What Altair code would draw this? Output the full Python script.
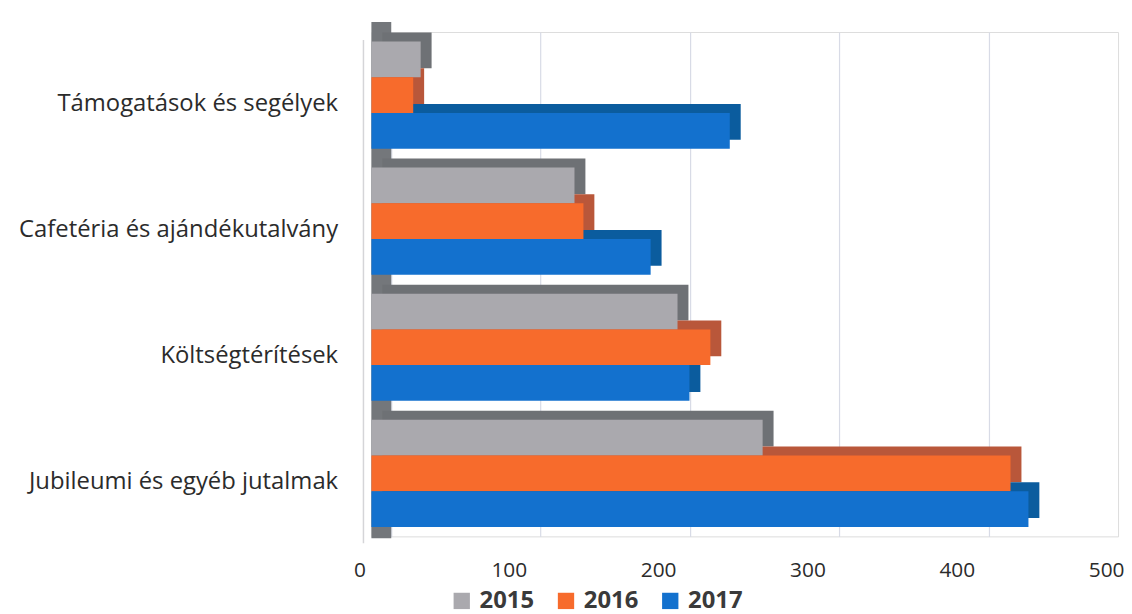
import altair as alt
import pandas as pd

categories = ["Támogatások és segélyek", "Cafetéria és ajándékutalvány",
              "Költségtérítések", "Jubileumi és egyéb jutalmak"]
years = ["2015", "2016", "2017"]
v2015 = [33, 136, 205, 262]
v2016 = [28, 142, 227, 428]
v2017 = [240, 187, 213, 440]

front_colors = ["#AAA9AE", "#F76B2C", "#1371CE"]
side_colors = ["#6E7175", "#B9573A", "#0B5C9E"]

rows = []
for i, c in enumerate(categories):
    for j, (y, vals) in enumerate(zip(years, [v2015, v2016, v2017])):
        rows.append({"cat": c, "year": y, "value": vals[i], "side": side_colors[j]})
df = pd.DataFrame(rows)

FONT = "Open Sans"
H = 508
BW = H / 4 * 0.85  # inner band of a category

y_enc = alt.Y("cat:N", sort=categories, title=None,
              scale=alt.Scale(paddingInner=0.15, paddingOuter=0.075),
              axis=alt.Axis(labelFontSize=24, labelColor="#2b2b2b", labelFont=FONT,
                            ticks=False, domain=False, labelPadding=34, labelOffset=9,
                            labelLimit=400))
x_enc = alt.X("value:Q", title=None,
              scale=alt.Scale(domain=[0, 500], nice=False),
              axis=alt.Axis(values=[0, 100, 200, 300, 400, 500], tickOffset=20,
                            labelOffset=-32, labelFontSize=21, labelColor="#2b2b2b",
                            labelFont=FONT, ticks=False, domain=False, labelPadding=23,
                            gridColor="#D8DBE6", gridWidth=1.2, labelFlush=False))

wall = alt.Chart(pd.DataFrame({"a": [0]})).mark_rect(color="#74777B").encode(
    x=alt.value(0), x2=alt.value(20), y=alt.value(-10), y2=alt.value(510))
edge = alt.Chart(pd.DataFrame({"a": [0]})).mark_rule(color="#D5D5D8", strokeWidth=1.5).encode(
    x=alt.value(-8), y=alt.value(8), y2=alt.value(515))

back = alt.Chart(df).mark_bar(xOffset=11).encode(
    y=y_enc,
    yOffset=alt.YOffset("year:N", sort=years,
                        scale=alt.Scale(paddingInner=0, paddingOuter=0, range=[-9, BW - 9])),
    x=x_enc,
    color=alt.Color("side:N", scale=None))

front = alt.Chart(df).mark_bar().encode(
    y=y_enc,
    yOffset=alt.YOffset("year:N", sort=years,
                        scale=alt.Scale(paddingInner=0, paddingOuter=0, range=[0, BW])),
    x=x_enc,
    color=alt.Color("year:N", sort=years,
                    scale=alt.Scale(domain=years, range=front_colors),
                    legend=alt.Legend(title=None, orient="none", direction="horizontal",
                                      legendX=79, legendY=561, symbolType="square",
                                      symbolSize=270, symbolStrokeWidth=0,
                                      labelFontSize=24, labelFontWeight="bold",
                                      labelColor="#3a3a3a", labelFont=FONT,
                                      columnPadding=20, labelOffset=6)))

chart = alt.layer(wall, edge, back, front).resolve_scale(yOffset="independent").properties(
    width=752, height=H,
    autosize=alt.AutoSizeParams(type="none"),
    padding={"left": 366, "top": 22, "right": 6, "bottom": 76},
).configure_view(stroke=None).configure(background="white")

chart.save("out.html", embed_options={"renderer": "svg", "actions": False})
